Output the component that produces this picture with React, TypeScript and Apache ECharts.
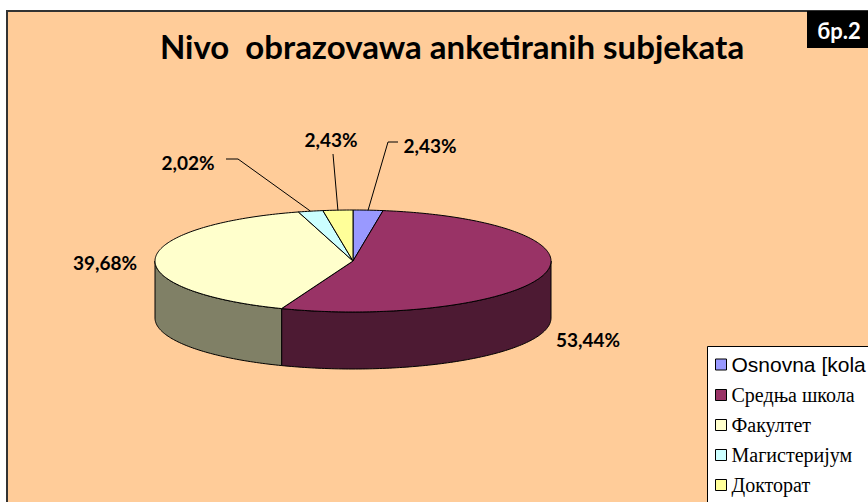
import React, { useEffect, useRef } from 'react';
import * as echarts from 'echarts';

// ---- data ----
const CATEGORIES = ['Osnovna [kola', 'Средња школа', 'Факултет', 'Магистеријум', 'Докторат'];
const VALUES = [2.43, 53.44, 39.68, 2.02, 2.43];
const COLORS = ['#9999FF', '#993366', '#FFFFCC', '#CCFFFF', '#FFFF99'];
const TITLE = 'Nivo  obrazovawa anketiranih subjekata';
const BADGE = 'бр.2';

// ---- layout ----
const CX = 353;
const CY = 261;
const RX = 198;
const RY = 51;
const DEPTH = 57;
const LABEL_LAYOUT: { x: number; y: number; leader: number[][] | null }[] = [
  { x: 430, y: 145, leader: [[388, 142], [398, 142]] },
  { x: 588, y: 339, leader: null },
  { x: 105, y: 262, leader: null },
  { x: 188, y: 162, leader: [[238, 159], [226, 159]] },
  { x: 331, y: 139, leader: [[333, 154]] },
];

const fmt = (v: number) => v.toFixed(2).replace('.', ',') + '%';

function darken(hex: string, f = 0.5) {
  const n = parseInt(hex.slice(1), 16);
  const r = Math.round(((n >> 16) & 255) * f);
  const g = Math.round(((n >> 8) & 255) * f);
  const b = Math.round((n & 255) * f);
  return `rgb(${r},${g},${b})`;
}

const pt = (deg: number, dy = 0) => {
  const r = (deg * Math.PI) / 180;
  return [CX + RX * Math.sin(r), CY - RY * Math.cos(r) + dy];
};
const arc = (from: number, to: number, dy: number) => {
  const n = Math.max(2, Math.ceil(Math.abs(to - from)));
  const pts: number[][] = [];
  for (let s = 0; s <= n; s++) pts.push(pt(from + ((to - from) * s) / n, dy));
  return pts;
};

export default function App() {
  const ref = useRef<HTMLDivElement>(null);
  useEffect(() => {
    if (!ref.current) return;
    const chart = echarts.init(ref.current, undefined, { renderer: 'svg' });
    const total = VALUES.reduce((a, b) => a + b, 0);

    const series = CATEGORIES.map((name, i) => ({
      type: 'custom',
      name,
      coordinateSystem: 'none',
      silent: true,
      itemStyle: { color: COLORS[i] },
      data: [VALUES[i]],
      renderItem: (params: any, api: any) => {
        const v = api.value(0);
        let start = 0;
        for (let k = 0; k < i; k++) start += VALUES[k];
        const a = (start / total) * 360;
        const b = ((start + v) / total) * 360;
        const children: any[] = [];
        const lo = Math.max(a, 90);
        const hi = Math.min(b, 270);
        if (hi > lo) {
          children.push({
            type: 'polygon',
            z2: 1,
            shape: { points: [...arc(lo, hi, 0), ...arc(hi, lo, DEPTH)] },
            style: { fill: darken(COLORS[i]), stroke: '#000', lineWidth: 1, lineJoin: 'round' },
          });
        }
        children.push({
          type: 'polygon',
          z2: 2,
          shape: { points: [[CX, CY], ...arc(a, b, 0)] },
          style: { fill: COLORS[i], stroke: '#000', lineWidth: 1, lineJoin: 'round' },
        });
        const lay = LABEL_LAYOUT[i];
        if (lay.leader) {
          children.push({
            type: 'polyline',
            z2: 3,
            shape: { points: [pt((a + b) / 2), ...lay.leader] },
            style: { stroke: '#000', lineWidth: 1, fill: null },
          });
        }
        children.push({
          type: 'text',
          z2: 4,
          x: lay.x,
          y: lay.y,
          style: {
            text: fmt(v),
            fill: '#000',
            fontFamily: 'Lato',
            fontWeight: 'bold',
            fontSize: 19,
            align: 'center',
            verticalAlign: 'middle',
          },
        });
        return { type: 'group', children };
      },
    }));

    chart.setOption({
      animation: false,
      backgroundColor: '#ffffff',
      title: {
        text: TITLE,
        left: 452,
        top: 29,
        textAlign: 'center',
        padding: 0,
        textStyle: { fontFamily: 'Lato', fontWeight: 'bold', fontSize: 33, color: '#000' },
      },
      legend: {
        orient: 'vertical',
        left: 715,
        top: 354,
        padding: 0,
        itemWidth: 11,
        itemHeight: 11,
        itemGap: 10,
        icon: 'rect',
        selectedMode: false,
        itemStyle: { borderColor: '#000', borderWidth: 1 },
        data: CATEGORIES,
        formatter: (name: string) => (name === CATEGORIES[0] ? `{a|${name}}` : `{b|${name}}`),
        textStyle: {
          color: '#000',
          rich: {
            a: { fontFamily: 'Liberation Sans', fontSize: 21, lineHeight: 22, color: '#000' },
            b: { fontFamily: 'Liberation Serif', fontSize: 20, lineHeight: 22, color: '#000' },
          },
        },
      },
      graphic: [
        {
          type: 'rect',
          z: -10,
          silent: true,
          shape: { x: 7, y: 11, width: 900, height: 600 },
          style: { fill: '#FFCC99', stroke: '#333333', lineWidth: 2 },
        },
        {
          type: 'rect',
          z: -5,
          silent: true,
          shape: { x: 707.5, y: 346.5, width: 300, height: 300 },
          style: { fill: '#ffffff', stroke: '#000', lineWidth: 1 },
        },
        {
          type: 'rect',
          z: 10,
          silent: true,
          shape: { x: 807, y: 11, width: 61, height: 37 },
          style: { fill: '#000' },
        },
        {
          type: 'text',
          z: 11,
          silent: true,
          x: 839,
          y: 30,
          style: {
            text: BADGE,
            fill: '#fff',
            fontFamily: 'Lato',
            fontWeight: 'bold',
            fontSize: 22,
            align: 'center',
            verticalAlign: 'middle',
          },
        },
      ],
      series,
    });
    return () => chart.dispose();
  }, []);
  return (
    <div
      ref={ref}
      style={{ position: 'absolute', left: 0, top: 0, width: 868, height: 502 }}
    />
  );
}
